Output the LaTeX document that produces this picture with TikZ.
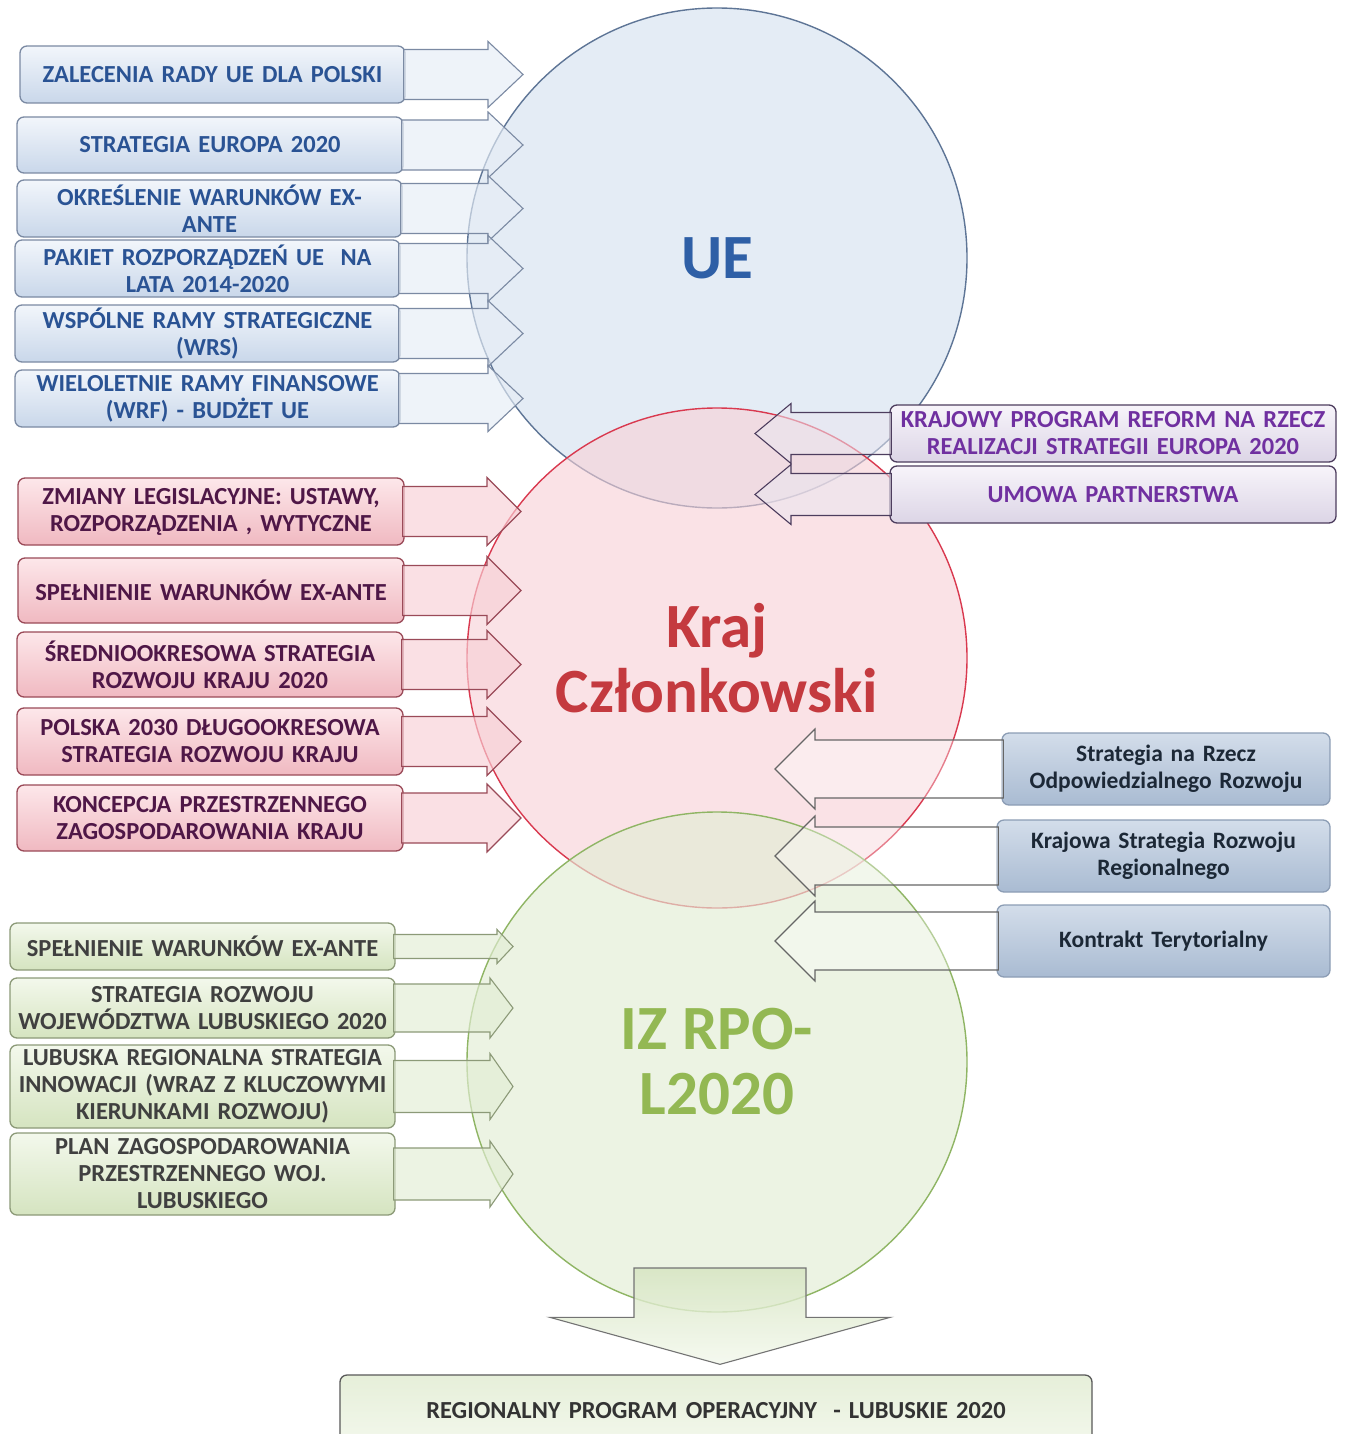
\documentclass[tikz,border=0pt]{standalone}
\usepackage{fontspec}
\setmainfont{Carlito}
\usetikzlibrary{calc}
\definecolor{bluetop}{HTML}{F2F6FB}
\definecolor{bluebot}{HTML}{C9D7EA}
\definecolor{blueline}{HTML}{7B8AA3}
\definecolor{bluetext}{HTML}{2A5394}
\definecolor{redtop}{HTML}{FDE7EA}
\definecolor{redbot}{HTML}{F0B9C1}
\definecolor{redline}{HTML}{9A4A58}
\definecolor{redtext}{HTML}{4F1747}
\definecolor{purtop}{HTML}{F7F4FA}
\definecolor{purbot}{HTML}{DCD5E6}
\definecolor{purline}{HTML}{4D3D5E}
\definecolor{purtext}{HTML}{7030A0}
\definecolor{gbtop}{HTML}{D3DDEA}
\definecolor{gbbot}{HTML}{A9BBD2}
\definecolor{gbline}{HTML}{8C9DB5}
\definecolor{gbtext}{HTML}{1C2836}
\definecolor{grtop}{HTML}{F3F8EC}
\definecolor{grbot}{HTML}{D5E4C0}
\definecolor{grline}{HTML}{8C9A78}
\definecolor{grtext}{HTML}{404040}
\definecolor{uefill}{HTML}{DCE6F2}
\definecolor{ueline}{HTML}{5E7596}
\definecolor{uetext}{HTML}{2E5FA6}
\definecolor{krfill}{HTML}{F8D0D6}
\definecolor{krline}{HTML}{D9394F}
\definecolor{krtext}{HTML}{C43A3F}
\definecolor{izfill}{HTML}{E2EDD5}
\definecolor{izline}{HTML}{8FB564}
\definecolor{iztext}{HTML}{93B853}
\newcommand\mybox[7]{%
  \pgfmathsetmacro\myBW{#4-#2}\pgfmathsetmacro\myBH{#5-#3}%
  \pgfmathsetmacro\myTW{#4-#2-10}%
  \pgfmathsetmacro\myCX{(#2+#4)/2}\pgfmathsetmacro\myCY{(#3+#5)/2}%
  \node[#6, minimum width=\myBW pt, minimum height=\myBH pt, text width=\myTW pt,
        inner xsep=5pt, inner ysep=0pt] (#1) at (\myCX,\myCY) {#7};}
% right-pointing block arrow: box, target coordinate, head length, body half, head half
\newcommand\rarr[6][]{%
  \path[#1] let \p1=(#2.east), \p2=(#3) in
   (\x1-2pt,\y1+#5pt) -- (\x2-#4pt,\y1+#5pt) -- (\x2-#4pt,\y1+#6pt) -- (\x2,\y1)
   -- (\x2-#4pt,\y1-#6pt) -- (\x2-#4pt,\y1-#5pt) -- (\x1-2pt,\y1-#5pt) -- cycle;}
% left-pointing block arrow
\newcommand\larr[6][]{%
  \path[#1] let \p1=(#2.west), \p2=(#3) in
   (\x1+2pt,\y1+#5pt) -- (\x2+#4pt,\y1+#5pt) -- (\x2+#4pt,\y1+#6pt) -- (\x2,\y1)
   -- (\x2+#4pt,\y1-#6pt) -- (\x2+#4pt,\y1-#5pt) -- (\x1+2pt,\y1-#5pt) -- cycle;}
\begin{document}
\begin{tikzpicture}[x=1pt,y=-1pt,
  boxbase/.style={rounded corners=7pt, line width=1.3pt, align=center,
     font=\bfseries\fontsize{24.5}{27}\selectfont},
  bluebox/.style={boxbase, draw=blueline, top color=bluetop, bottom color=bluebot, text=bluetext},
  redbox/.style={boxbase, draw=redline, top color=redtop, bottom color=redbot, text=redtext},
  purbox/.style={boxbase, draw=purline, top color=purtop, bottom color=purbot, text=purtext},
  gbbox/.style={boxbase, draw=gbline, top color=gbtop, bottom color=gbbot, text=gbtext,
     font=\bfseries\fontsize{23.5}{27}\selectfont},
  grbox/.style={boxbase, draw=grline, top color=grtop, bottom color=grbot, text=grtext},
  rpobox/.style={boxbase, draw=black!65, top color=grbot!60, bottom color=grtop, text=black!80},
  bigcircle/.style={circle, minimum size=500pt, inner sep=0pt, line width=1.4pt, align=center,
     font=\bfseries\fontsize{63}{65}\selectfont},
  bluearr/.style={fill=uefill!70!white, fill opacity=0.65, draw=blueline, line width=1.1pt},
  redarr/.style={fill=krfill, fill opacity=0.65, draw=redline, line width=1.1pt},
  purarr/.style={fill=purbot!60!white, fill opacity=0.55, draw=purline, line width=1.1pt},
  gbarr/.style={fill=white, fill opacity=0.35, draw=black!60, line width=1.1pt},
  grarr/.style={fill=izfill, fill opacity=0.65, draw=grline, line width=1.1pt},
  downarr/.style={top color=grbot, bottom color=grtop, fill opacity=0.8, draw=black!55, line width=1.1pt}
]
\useasboundingbox (0,0) rectangle (1344,1434);
\fill[white] (0,0) rectangle (1344,1434);

% circles
\node[bigcircle, draw=ueline, fill=uefill, fill opacity=0.75, text opacity=1, text=uetext] (ue) at (717,258) {UE};
\node[bigcircle, draw=krline, fill=krfill, fill opacity=0.6, text opacity=1, text=krtext] (kraj) at (717,658) {Kraj\\Członkowski};
\node[bigcircle, draw=izline, fill=izfill, fill opacity=0.65, text opacity=1, text=iztext] (iz) at (717,1062) {IZ RPO-\\L2020};

% target points of the arrows
\coordinate (ueIn) at (523,258);
\coordinate (krIn) at (521,658);
\coordinate (izIn) at (513,1062);
\coordinate (krUp) at (755,460);
\coordinate (krDown) at (775,850);

% left blue boxes
\mybox{b1}{20}{46}{405}{103}{bluebox}{ZALECENIA RADY UE DLA POLSKI}
\mybox{b2}{17}{117}{403}{173}{bluebox}{STRATEGIA EUROPA 2020}
\mybox{b3}{17}{180}{402}{237}{bluebox}{OKREŚLENIE WARUNKÓW EX-\\ANTE}
\mybox{b4}{15}{240}{400}{297}{bluebox}{PAKIET ROZPORZĄDZEŃ UE\ \ NA\\LATA 2014-2020}
\mybox{b5}{15}{305}{400}{362}{bluebox}{WSPÓLNE RAMY STRATEGICZNE\\(WRS)}
\mybox{b6}{15}{370}{400}{427}{bluebox}{WIELOLETNIE RAMY FINANSOWE\\(WRF) - BUDŻET UE}

% red boxes
\mybox{r1}{18}{478}{404}{545}{redbox}{ZMIANY LEGISLACYJNE: USTAWY,\\ROZPORZĄDZENIA , WYTYCZNE}
\mybox{r2}{18}{558}{404}{623}{redbox}{SPEŁNIENIE WARUNKÓW EX-ANTE}
\mybox{r3}{17}{632}{403}{697}{redbox}{ŚREDNIOOKRESOWA STRATEGIA\\ROZWOJU KRAJU 2020}
\mybox{r4}{17}{708}{403}{775}{redbox}{POLSKA 2030 DŁUGOOKRESOWA\\STRATEGIA ROZWOJU KRAJU}
\mybox{r5}{17}{785}{403}{851}{redbox}{KONCEPCJA PRZESTRZENNEGO\\ZAGOSPODAROWANIA KRAJU}

% purple boxes
\mybox{p1}{890}{405}{1336}{462}{purbox}{KRAJOWY PROGRAM REFORM NA RZECZ\\REALIZACJI STRATEGII EUROPA 2020}
\mybox{p2}{890}{466}{1336}{523}{purbox}{UMOWA PARTNERSTWA}

% grey-blue boxes
\mybox{g1}{1002}{733}{1330}{805}{gbbox}{Strategia na Rzecz\\Odpowiedzialnego Rozwoju}
\mybox{g2}{997}{820}{1330}{892}{gbbox}{Krajowa Strategia Rozwoju\\Regionalnego}
\mybox{g3}{997}{905}{1330}{977}{gbbox}{Kontrakt Terytorialny}

% green boxes
\mybox{gr1}{10}{923}{395}{970}{grbox}{SPEŁNIENIE WARUNKÓW EX-ANTE}
\mybox{gr2}{10}{978}{395}{1038}{grbox}{STRATEGIA ROZWOJU\\WOJEWÓDZTWA LUBUSKIEGO 2020}
\mybox{gr3}{10}{1045}{395}{1128}{grbox}{LUBUSKA REGIONALNA STRATEGIA\\INNOWACJI (WRAZ Z KLUCZOWYMI\\KIERUNKAMI ROZWOJU)}
\mybox{gr4}{10}{1133}{395}{1215}{grbox}{PLAN ZAGOSPODAROWANIA\\PRZESTRZENNEGO WOJ.\\LUBUSKIEGO}

% bottom box
\mybox{rpo}{340}{1375}{1092}{1446}{rpobox}{REGIONALNY PROGRAM OPERACYJNY\ \ - LUBUSKIE 2020}

% arrows
\rarr[bluearr]{b1}{ueIn}{35}{25}{33}
\rarr[bluearr]{b2}{ueIn}{35}{25}{33}
\rarr[bluearr]{b3}{ueIn}{35}{25}{33}
\rarr[bluearr]{b4}{ueIn}{35}{25}{33}
\rarr[bluearr]{b5}{ueIn}{35}{25}{33}
\rarr[bluearr]{b6}{ueIn}{35}{25}{33}

\rarr[redarr]{r1}{krIn}{34}{25}{34}
\rarr[redarr]{r2}{krIn}{34}{25}{34}
\rarr[redarr]{r3}{krIn}{34}{25}{34}
\rarr[redarr]{r4}{krIn}{34}{25}{34}
\rarr[redarr]{r5}{krIn}{34}{25}{34}

\larr[purarr]{p1}{krUp}{36}{21}{30}
\larr[purarr]{p2}{krUp}{36}{21}{30}

\larr[gbarr]{g1}{krDown}{40}{29}{40}
\larr[gbarr]{g2}{krDown}{40}{29}{40}
\larr[gbarr]{g3}{krDown}{40}{29}{40}

\rarr[grarr]{gr1}{izIn}{16}{12}{17}
\rarr[grarr]{gr2}{izIn}{23}{24}{30}
\rarr[grarr]{gr3}{izIn}{23}{26}{33}
\rarr[grarr]{gr4}{izIn}{23}{26}{33}

\path[downarr] let \p1=(iz.center), \p2=(rpo.north) in
  (\x1-83pt,\y1-206pt) -- (\x1+89pt,\y1-206pt) -- (\x1+89pt,\y2+57pt) -- (\x1+173pt,\y2+57pt)
  -- (\x1+3pt,\y2+10pt) -- (\x1-167pt,\y2+57pt) -- (\x1-83pt,\y2+57pt) -- cycle;
\end{tikzpicture}
\end{document}
